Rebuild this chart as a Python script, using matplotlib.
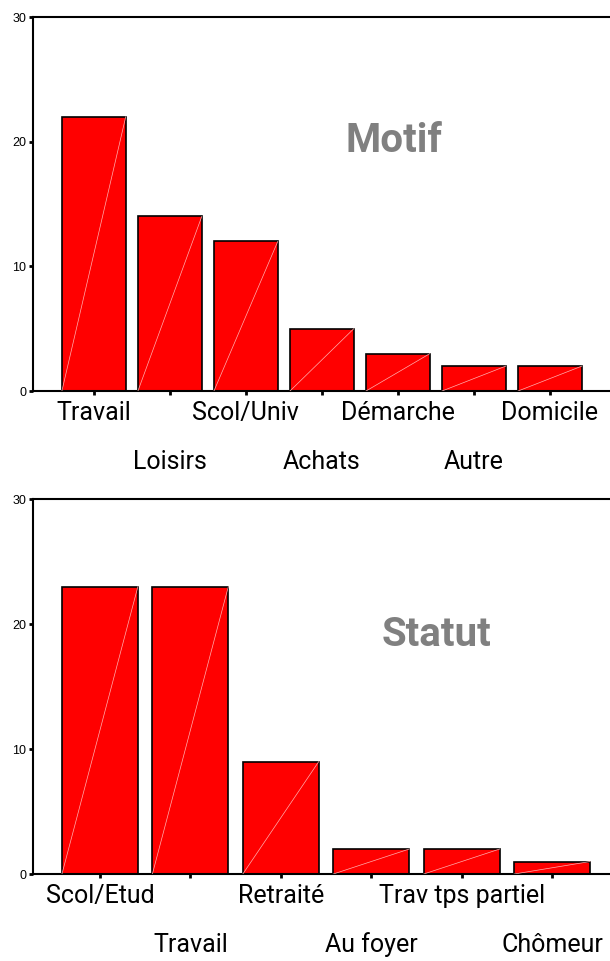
import matplotlib
matplotlib.use("Agg")
import matplotlib.pyplot as plt
import numpy as np

motif_labels = ["Travail", "Loisirs", "Scol/Univ", "Achats", "Démarche", "Autre", "Domicile"]
motif_counts = [22, 14, 12, 5, 3, 2, 2]

statut_labels = ["Scol/Etud", "Travail", "Retraité", "Au foyer", "Trav tps partiel", "Chômeur"]
statut_counts = [23, 23, 9, 2, 2, 1]

NARROW = ["Liberation Sans Narrow", "Roboto", "Liberation Sans", "DejaVu Sans"]
RED = "#ff0000"


def draw_panel(ax, labels, counts, title, xlim, title_xy):
    x = np.arange(len(counts))
    width = 0.84
    ax.bar(x, counts, width=width, color=RED, edgecolor="black", linewidth=1.2, zorder=2)
    # faint diagonal across each bar
    for xi, v in zip(x, counts):
        ax.plot([xi - width / 2, xi + width / 2], [0, v], color="#ffb0b0", lw=0.5, zorder=3)

    ax.set_xlim(*xlim)
    ax.set_ylim(0, 30)
    ax.set_yticks([0, 10, 20, 30])
    ax.set_yticklabels(["0", "10", "20", "30"], fontsize=9, family=["Liberation Sans", "DejaVu Sans"])
    ax.tick_params(axis="y", length=3, width=2, pad=2)
    ax.set_xticks(x)
    ax.set_xticklabels([])
    ax.tick_params(axis="x", direction="out", length=3, width=2)

    for s in ["left", "top", "bottom"]:
        ax.spines[s].set_linewidth(1.5)
    ax.spines["right"].set_visible(False)

    for i, lab in enumerate(labels):
        off = -16 if i % 2 == 0 else -51
        ax.annotate(lab, xy=(x[i], 0), xycoords=("data", "axes fraction"),
                    xytext=(0, off), textcoords="offset points",
                    ha="center", va="center", fontsize=18, family=NARROW,
                    annotation_clip=False)

    ax.text(title_xy[0], title_xy[1], title, transform=ax.transAxes,
            ha="center", va="center", fontsize=29, fontweight="bold",
            color="#808080", family=NARROW)


fig = plt.figure(figsize=(6.10, 9.61), dpi=100)
ax1 = fig.add_axes([0.0541, 0.5931, 0.9459, 0.3892])
ax2 = fig.add_axes([0.0541, 0.0905, 0.9459, 0.3902])

draw_panel(ax1, motif_labels, motif_counts, "Motif", (-0.80, 6.79), (0.625, 0.668))
draw_panel(ax2, statut_labels, statut_counts, "Statut", (-0.74, 5.64), (0.70, 0.637))

fig.savefig("out.png", dpi=100)
